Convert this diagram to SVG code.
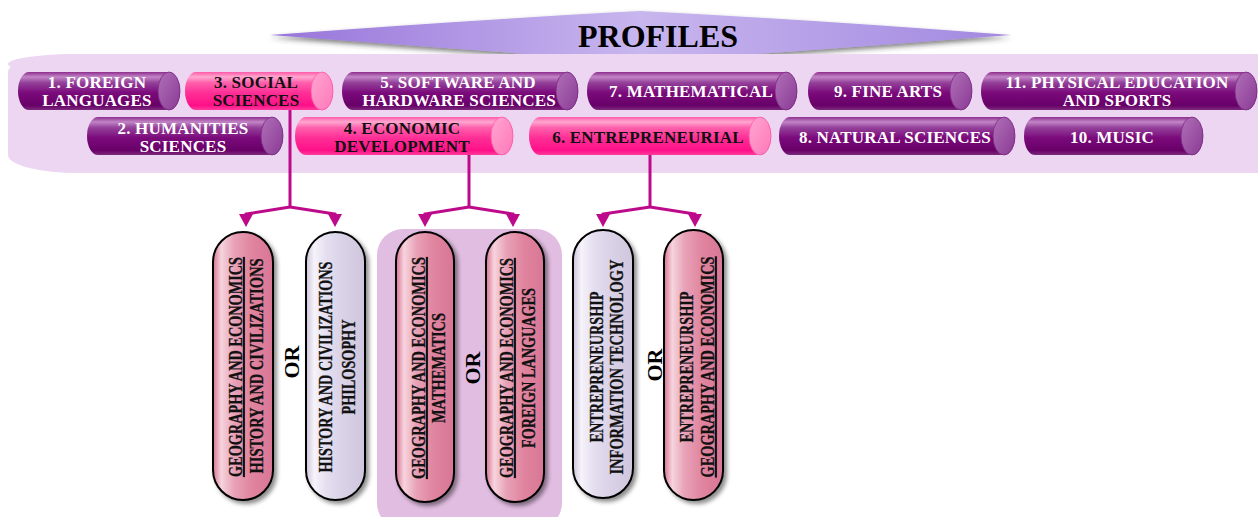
<svg xmlns="http://www.w3.org/2000/svg" width="1258" height="517" viewBox="0 0 1258 517">
<defs>
<linearGradient id="gPur" x1="0" y1="0" x2="0" y2="1">
<stop offset="0" stop-color="#8e2e8e"/><stop offset="0.13" stop-color="#c286c6"/><stop offset="0.28" stop-color="#94419a"/><stop offset="0.55" stop-color="#7b0a7b"/><stop offset="0.88" stop-color="#680068"/><stop offset="1" stop-color="#7c2a7c"/>
</linearGradient>
<linearGradient id="gPurCap" x1="0" y1="0" x2="1" y2="1">
<stop offset="0" stop-color="#b070b8"/><stop offset="1" stop-color="#8a3a94"/>
</linearGradient>
<linearGradient id="gPink" x1="0" y1="0" x2="0" y2="1">
<stop offset="0" stop-color="#ff5aa8"/><stop offset="0.13" stop-color="#ffa8d0"/><stop offset="0.28" stop-color="#ff60ac"/><stop offset="0.55" stop-color="#ff2f96"/><stop offset="0.88" stop-color="#ff1088"/><stop offset="1" stop-color="#ff3c9c"/>
</linearGradient>
<linearGradient id="gPinkCap" x1="0" y1="0" x2="1" y2="1">
<stop offset="0" stop-color="#ffa6d2"/><stop offset="1" stop-color="#ff78b8"/>
</linearGradient>
<linearGradient id="gDiamond" x1="0" y1="0" x2="1" y2="0">
<stop offset="0" stop-color="#9774da"/><stop offset="0.5" stop-color="#c8b6ee"/><stop offset="1" stop-color="#a288e0"/>
</linearGradient>
<linearGradient id="gRose" x1="0" y1="0" x2="1" y2="0">
<stop offset="0" stop-color="#d97393"/><stop offset="0.14" stop-color="#f6d4de"/><stop offset="0.35" stop-color="#e8a2b7"/><stop offset="0.65" stop-color="#e0849f"/><stop offset="1" stop-color="#d87696"/>
</linearGradient>
<linearGradient id="gLav" x1="0" y1="0" x2="1" y2="0">
<stop offset="0" stop-color="#cdc4da"/><stop offset="0.14" stop-color="#f6f3fa"/><stop offset="0.35" stop-color="#e4def0"/><stop offset="0.65" stop-color="#d9d1e6"/><stop offset="1" stop-color="#cfc6dd"/>
</linearGradient>
<filter id="shadow" x="-20%" y="-10%" width="150%" height="130%">
<feDropShadow dx="3" dy="3" stdDeviation="2" flood-color="#000" flood-opacity="0.45"/>
</filter>
<filter id="dshadow" x="-5%" y="-50%" width="110%" height="200%">
<feDropShadow dx="0" dy="3" stdDeviation="2.5" flood-color="#333" flood-opacity="0.6"/>
</filter>
<marker id="arr" markerUnits="userSpaceOnUse" markerWidth="13" markerHeight="14" viewBox="0 0 13 14" refX="1" refY="7" orient="auto">
<path d="M0,0 L13,7 L0,14 Z" fill="#bd0a8a"/>
</marker>
</defs>
<style>
.pur{fill:url(#gPur)}
.purcap{fill:url(#gPurCap);stroke:#7a2a82;stroke-width:0.8}
.pink{fill:url(#gPink)}
.pinkcap{fill:url(#gPinkCap);stroke:#ff58a8;stroke-width:0.8}
.lbl{font-family:"Liberation Serif","Times New Roman",serif;font-weight:bold;font-size:17px;letter-spacing:0.2px;text-anchor:middle}
.wt{fill:#ffffff}
.bk{fill:#111111}
.pill{stroke:#000;stroke-width:2;filter:url(#shadow)}
.rose{fill:url(#gRose)}
.lav{fill:url(#gLav)}
.vt{font-family:"Liberation Serif","Times New Roman",serif;font-weight:bold;font-size:19px;text-anchor:middle;fill:#111;stroke:#111;stroke-width:0.3}
.or{font-family:"Liberation Serif","Times New Roman",serif;font-weight:bold;font-size:22px;text-anchor:middle;fill:#000}
.con{fill:none;stroke:#bd0a8a;stroke-width:3}
</style>

<!-- background band -->
<rect x="8" y="54" width="1320" height="119" rx="70" ry="18" fill="#ecd6f2"/>

<!-- title -->
<g id="title">
<path d="M270,35 Q470,20 640,11 Q820,20 1011,35 Q820,50 640,62 Q470,50 270,35 Z" fill="url(#gDiamond)" filter="url(#dshadow)"/>
<rect x="8" y="54" width="1320" height="20" rx="70" ry="18" fill="#ecd6f2"/>
<text x="658" y="47" font-family="Liberation Serif,Times New Roman,serif" font-weight="bold" font-size="32" text-anchor="middle" fill="#000">PROFILES</text>
</g>

<!-- row 1 -->
<g id="n1">
<path class="pur" d="M29,72 H169 A11,19 0 0 1 169,110 H29 A11,19 0 0 1 29,72 Z"/>
<ellipse class="purcap" cx="169" cy="91" rx="11" ry="19"/>
<text class="lbl wt" x="97" y="88">1. FOREIGN</text>
<text class="lbl wt" x="97" y="106">LANGUAGES</text>
</g>
<g id="n3">
<path class="pink" d="M196,72 H322 A11,19 0 0 1 322,110 H196 A11,19 0 0 1 196,72 Z"/>
<ellipse class="pinkcap" cx="322" cy="91" rx="11" ry="19"/>
<text class="lbl bk" x="256" y="88">3. SOCIAL</text>
<text class="lbl bk" x="256" y="106">SCIENCES</text>
</g>
<g id="n5">
<path class="pur" d="M353,72 H567 A11,19 0 0 1 567,110 H353 A11,19 0 0 1 353,72 Z"/>
<ellipse class="purcap" cx="567" cy="91" rx="11" ry="19"/>
<text class="lbl wt" x="458" y="88">5. SOFTWARE AND</text>
<text class="lbl wt" x="459" y="106">HARDWARE SCIENCES</text>
</g>
<g id="n7">
<path class="pur" d="M598,72 H786 A11,19 0 0 1 786,110 H598 A11,19 0 0 1 598,72 Z"/>
<ellipse class="purcap" cx="786" cy="91" rx="11" ry="19"/>
<text class="lbl wt" x="691" y="97">7. MATHEMATICAL</text>
</g>
<g id="n9">
<path class="pur" d="M819,72 H961 A11,19 0 0 1 961,110 H819 A11,19 0 0 1 819,72 Z"/>
<ellipse class="purcap" cx="961" cy="91" rx="11" ry="19"/>
<text class="lbl wt" x="888" y="97">9. FINE ARTS</text>
</g>
<g id="n11">
<path class="pur" d="M992,72 H1246 A11,19 0 0 1 1246,110 H992 A11,19 0 0 1 992,72 Z"/>
<ellipse class="purcap" cx="1246" cy="91" rx="11" ry="19"/>
<text class="lbl wt" x="1117" y="88">11. PHYSICAL EDUCATION</text>
<text class="lbl wt" x="1117" y="106">AND SPORTS</text>
</g>

<!-- row 2 -->
<g id="n2">
<path class="pur" d="M98,117 H272 A11,19 0 0 1 272,155 H98 A11,19 0 0 1 98,117 Z"/>
<ellipse class="purcap" cx="272" cy="136" rx="11" ry="19"/>
<text class="lbl wt" x="183" y="134">2. HUMANITIES</text>
<text class="lbl wt" x="183" y="152">SCIENCES</text>
</g>
<g id="n4">
<path class="pink" d="M306,117 H502 A11,19 0 0 1 502,155 H306 A11,19 0 0 1 306,117 Z"/>
<ellipse class="pinkcap" cx="502" cy="136" rx="11" ry="19"/>
<text class="lbl bk" x="402" y="134">4. ECONOMIC</text>
<text class="lbl bk" x="402" y="152">DEVELOPMENT</text>
</g>
<g id="n6">
<path class="pink" d="M540,117 H760 A11,19 0 0 1 760,155 H540 A11,19 0 0 1 540,117 Z"/>
<ellipse class="pinkcap" cx="760" cy="136" rx="11" ry="19"/>
<text class="lbl bk" x="648" y="143">6. ENTREPRENEURIAL</text>
</g>
<g id="n8">
<path class="pur" d="M790,117 H1004 A11,19 0 0 1 1004,155 H790 A11,19 0 0 1 790,117 Z"/>
<ellipse class="purcap" cx="1004" cy="136" rx="11" ry="19"/>
<text class="lbl wt" x="895" y="143">8. NATURAL SCIENCES</text>
</g>
<g id="n10">
<path class="pur" d="M1035,117 H1192 A11,19 0 0 1 1192,155 H1035 A11,19 0 0 1 1035,117 Z"/>
<ellipse class="purcap" cx="1192" cy="136" rx="11" ry="19"/>
<text class="lbl wt" x="1112" y="143">10. MUSIC</text>
</g>

<!-- highlight box -->
<rect id="econ-box" x="377" y="229" width="185" height="300" rx="26" fill="#e2bde2"/>

<!-- connectors -->
<g id="connectors">
<path class="con" d="M290,110 V207"/>
<path class="con" d="M290,207 L246,214 V215" marker-end="url(#arr)"/>
<path class="con" d="M290,207 L335,214 V215" marker-end="url(#arr)"/>
<path class="con" d="M469,155 V207"/>
<path class="con" d="M469,207 L425,214 V215" marker-end="url(#arr)"/>
<path class="con" d="M469,207 L513,214 V215" marker-end="url(#arr)"/>
<path class="con" d="M650,155 V207"/>
<path class="con" d="M650,207 L603,214 V215" marker-end="url(#arr)"/>
<path class="con" d="M650,207 L695,214 V215" marker-end="url(#arr)"/>
</g>

<!-- pills -->
<g id="p1">
<rect class="pill rose" x="213" y="232" width="60" height="268" rx="30"/>
<text class="vt" transform="translate(242,367) rotate(-90)" textLength="220" lengthAdjust="spacingAndGlyphs" text-decoration="underline">GEOGRAPHY AND ECONOMICS</text>
<text class="vt" transform="translate(263,366) rotate(-90)" textLength="215" lengthAdjust="spacingAndGlyphs">HISTORY AND CIVILIZATIONS</text>
</g>
<text class="or" transform="translate(299,362) rotate(-90)">OR</text>
<g id="p2">
<rect class="pill lav" x="306" y="232" width="59" height="268" rx="29.5"/>
<text class="vt" transform="translate(332,367) rotate(-90)" textLength="211" lengthAdjust="spacingAndGlyphs">HISTORY AND CIVILIZATIONS</text>
<text class="vt" transform="translate(355,367) rotate(-90)" textLength="95" lengthAdjust="spacingAndGlyphs">PHILOSOPHY</text>
</g>
<g id="p3">
<rect class="pill rose" x="396" y="232" width="58" height="270" rx="29"/>
<text class="vt" transform="translate(425,368) rotate(-90)" textLength="222" lengthAdjust="spacingAndGlyphs" text-decoration="underline">GEOGRAPHY AND ECONOMICS</text>
<text class="vt" transform="translate(445,368) rotate(-90)" textLength="110" lengthAdjust="spacingAndGlyphs">MATHEMATICS</text>
</g>
<text class="or" transform="translate(480,368) rotate(-90)">OR</text>
<g id="p4">
<rect class="pill rose" x="486" y="232" width="58" height="270" rx="29"/>
<text class="vt" transform="translate(513,368) rotate(-90)" textLength="220" lengthAdjust="spacingAndGlyphs" text-decoration="underline">GEOGRAPHY AND ECONOMICS</text>
<text class="vt" transform="translate(535,368) rotate(-90)" textLength="160" lengthAdjust="spacingAndGlyphs">FOREIGN LANGUAGES</text>
</g>
<g id="p5">
<rect class="pill lav" x="573" y="230" width="60" height="268" rx="30"/>
<text class="vt" transform="translate(603,367) rotate(-90)" textLength="151" lengthAdjust="spacingAndGlyphs">ENTREPRENEURSHIP</text>
<text class="vt" transform="translate(623,367) rotate(-90)" textLength="215" lengthAdjust="spacingAndGlyphs">INFORMATION TECHNOLOGY</text>
</g>
<text class="or" transform="translate(662,365) rotate(-90)">OR</text>
<g id="p6">
<rect class="pill rose" x="664" y="230" width="59" height="270" rx="29.5"/>
<text class="vt" transform="translate(693,367) rotate(-90)" textLength="151" lengthAdjust="spacingAndGlyphs">ENTREPRENEURSHIP</text>
<text class="vt" transform="translate(714,367) rotate(-90)" textLength="221" lengthAdjust="spacingAndGlyphs" text-decoration="underline">GEOGRAPHY AND ECONOMICS</text>
</g>
</svg>
